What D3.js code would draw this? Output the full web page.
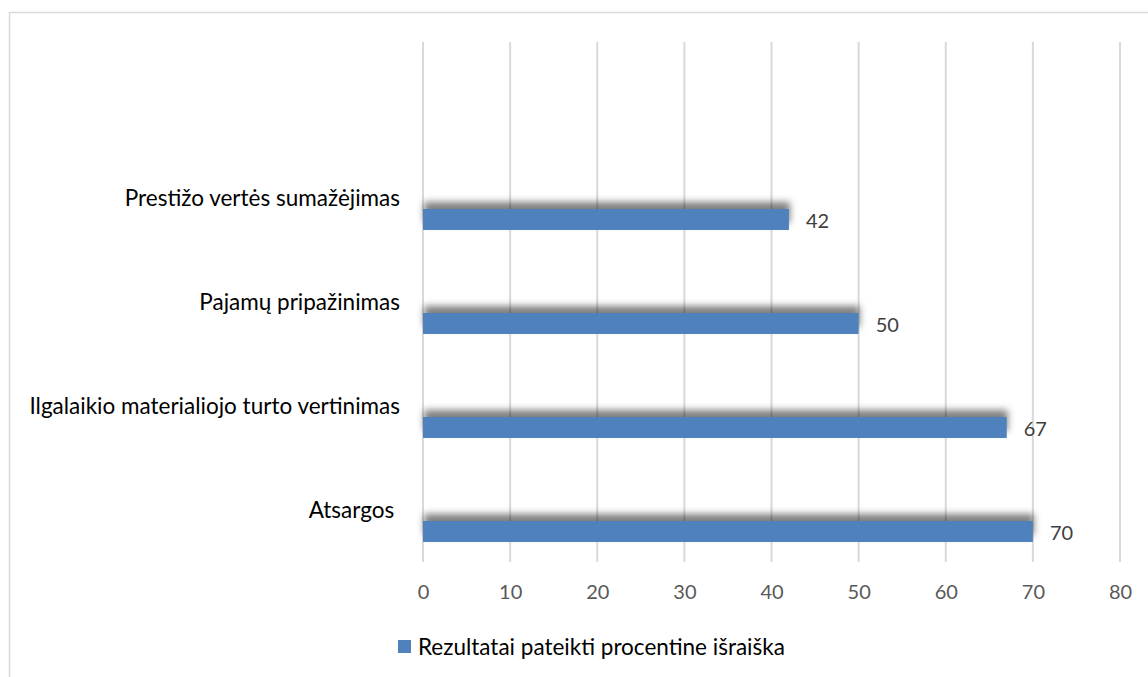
<!DOCTYPE html>
<html>
<head>
<meta charset="utf-8">
<script src="https://cdn.jsdelivr.net/npm/d3@7"></script>
<style>
  html, body { margin: 0; padding: 0; background: #fff; }
  svg { display: block; font-family: Lato, "Open Sans", sans-serif; }
</style>
</head>
<body>
<svg id="chart" width="1148" height="677"></svg>
<script>
// Categories, top to bottom, with their percentages
const categories = [
  "Prestižo vertės sumažėjimas",
  "Pajamų pripažinimas",
  "Ilgalaikio materialiojo turto vertinimas",
  "Atsargos "
];
const values = [42, 50, 67, 70];
const xTicks = [0, 10, 20, 30, 40, 50, 60, 70, 80];
const seriesName = "Rezultatai pateikti procentine išraiška";

const barColor = "#4f81bd";
const svg = d3.select("#chart");

// Outer chart frame (runs off the right and bottom edges)
svg.append("rect")
  .attr("x", 9.5).attr("y", 12.5)
  .attr("width", 1160).attr("height", 700)
  .attr("fill", "#fff")
  .attr("stroke", "#d9d9d9").attr("stroke-width", 1.5);

const x = d3.scaleLinear().domain([0, 80]).range([423, 1120]);
const y = d3.scalePoint().domain(categories).range([219.5, 531.5]);
const gridTop = 42, gridBottom = 562;
const barH = 21;

// Upward soft shadow behind bars
const defs = svg.append("defs");
const f = defs.append("filter").attr("id", "barShadow")
  .attr("x", "-5%").attr("y", "-100%").attr("width", "110%").attr("height", "250%");
f.append("feDropShadow")
  .attr("dx", 1).attr("dy", -7).attr("stdDeviation", 3.5)
  .attr("flood-color", "#000").attr("flood-opacity", 0.5);

// Vertical gridlines
svg.append("g").selectAll("line").data(xTicks).join("line")
  .attr("x1", d => x(d)).attr("x2", d => x(d))
  .attr("y1", gridTop).attr("y2", gridBottom)
  .attr("stroke", "#d9d9d9").attr("stroke-width", 2);

// Tick labels along the bottom
const xAxis = d3.axisBottom(x).tickValues(xTicks).tickSize(0).tickPadding(0);
const gx = svg.append("g").attr("transform", `translate(0,${gridBottom})`).call(xAxis);
gx.select(".domain").remove();
gx.selectAll("text")
  .attr("dy", null).attr("y", 37)
  .attr("fill", "#595959")
  .style("font-size", "20px")
  .style("font-family", "Lato, 'Open Sans', sans-serif");

// Bars
svg.append("g").selectAll("rect").data(categories).join("rect")
  .attr("x", x(0))
  .attr("y", d => y(d) - barH / 2)
  .attr("width", (d, i) => x(values[i]) - x(0))
  .attr("height", barH)
  .attr("fill", barColor)
  .attr("filter", "url(#barShadow)");

// Value labels
svg.append("g").selectAll("text").data(categories).join("text")
  .attr("x", (d, i) => x(values[i]) + 17)
  .attr("y", d => y(d) + 8)
  .attr("fill", "#404040")
  .style("font-size", "20px")
  .text((d, i) => values[i]);

// Category labels, right-aligned above each bar
svg.append("g").selectAll("text").data(categories).join("text")
  .attr("x", 400)
  .attr("y", d => y(d) - 14)
  .attr("text-anchor", "end")
  .attr("fill", "#000")
  .style("font-size", "22.5px")
  .style("white-space", "pre")
  .attr("xml:space", "preserve")
  .text(d => d);

// Legend
const lg = svg.append("g").attr("transform", "translate(398,640)");
lg.append("rect").attr("x", 0).attr("y", 0).attr("width", 13).attr("height", 13).attr("fill", barColor);
lg.append("text").attr("x", 20).attr("y", 15)
  .attr("fill", "#000").style("font-size", "22.5px")
  .text(seriesName);
</script>
</body>
</html>
